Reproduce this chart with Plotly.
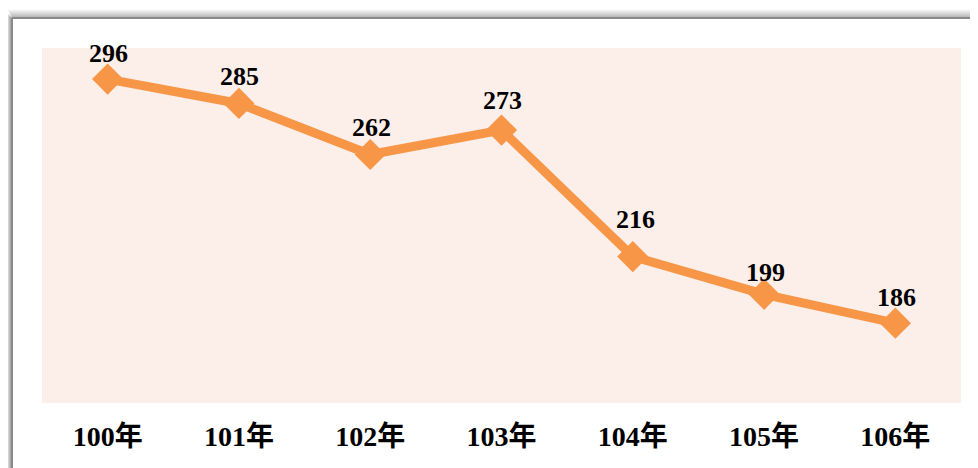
import plotly.graph_objects as go

categories = ["100年", "101年", "102年", "103年", "104年", "105年", "106年"]
values = [296, 285, 262, 273, 216, 199, 186]
label_dy = [26, 27, 27, 30, 37, 22, 26]
label_dx = [1, 1, 1, 1, 3, 1, 1]

OFF = 8  # page body margin
W, H = 978 - OFF, 468 - OFF
L, R, T, B = 42 - OFF, 978 - 961, 48 - OFF, 468 - 403
pw, ph = W - L - R, H - T - B

def px(x):
    return (x - OFF - L) / pw

def py(y):
    return (H - B - (y - OFF)) / ph

font_fam = "Liberation Serif, Times New Roman, Noto Sans CJK TC, serif"

fig = go.Figure()
fig.add_trace(go.Scatter(
    x=categories, y=values, mode="lines+markers",
    line=dict(color="#F79646", width=9),
    marker=dict(symbol="diamond", size=24, color="#F79646"),
    cliponaxis=False, hoverinfo="skip",
))

annotations = []
for c, v, dy, dx in zip(categories, values, label_dy, label_dx):
    annotations.append(dict(x=c, y=v, xref="x", yref="y", text=str(v),
                            showarrow=False, yshift=dy, xshift=dx,
                            font=dict(family=font_fam, size=26, color="#000000", weight="bold")))

shapes = []
for i in range(8):
    g = int(245 - i * 12)
    col = f"rgb({g},{g},{g})"
    yy = 10 + i
    xx = 8 + i * 0.5
    shapes.append(dict(type="line", xref="paper", yref="paper",
                       x0=px(xx), x1=px(978 + 5), y0=py(yy), y1=py(yy),
                       line=dict(color=col, width=1.2), layer="below"))
for i in range(4):
    g = int(220 - i * 25)
    col = f"rgb({g},{g},{g})"
    xx = 8 + i
    shapes.append(dict(type="line", xref="paper", yref="paper",
                       x0=px(xx), x1=px(xx), y0=py(14 + i), y1=py(468 + 5),
                       line=dict(color=col, width=1.2), layer="below"))
shapes.append(dict(type="line", xref="paper", yref="paper",
                   x0=px(12), x1=px(978 + 5), y0=py(18), y1=py(18),
                   line=dict(color="#8a8a8a", width=2)))
shapes.append(dict(type="line", xref="paper", yref="paper",
                   x0=px(12), x1=px(12), y0=py(18), y1=py(468 + 5),
                   line=dict(color="#8a8a8a", width=2)))

fig.update_layout(
    width=W, height=H,
    margin=dict(l=L, r=R, t=T, b=B),
    paper_bgcolor="#FFFFFF", plot_bgcolor="#FCEEE9",
    showlegend=False,
    shapes=shapes,
    annotations=annotations,
    xaxis=dict(range=[-0.5, 6.5], showgrid=False, zeroline=False, showline=False, ticks="",
               tickfont=dict(family=font_fam, size=28, color="#000000", weight="bold"),
               ticklabelstandoff=14),
    yaxis=dict(range=[150, 310], showgrid=False, zeroline=False, showline=False,
               showticklabels=False, ticks=""),
)

fig.write_html("out.html")
